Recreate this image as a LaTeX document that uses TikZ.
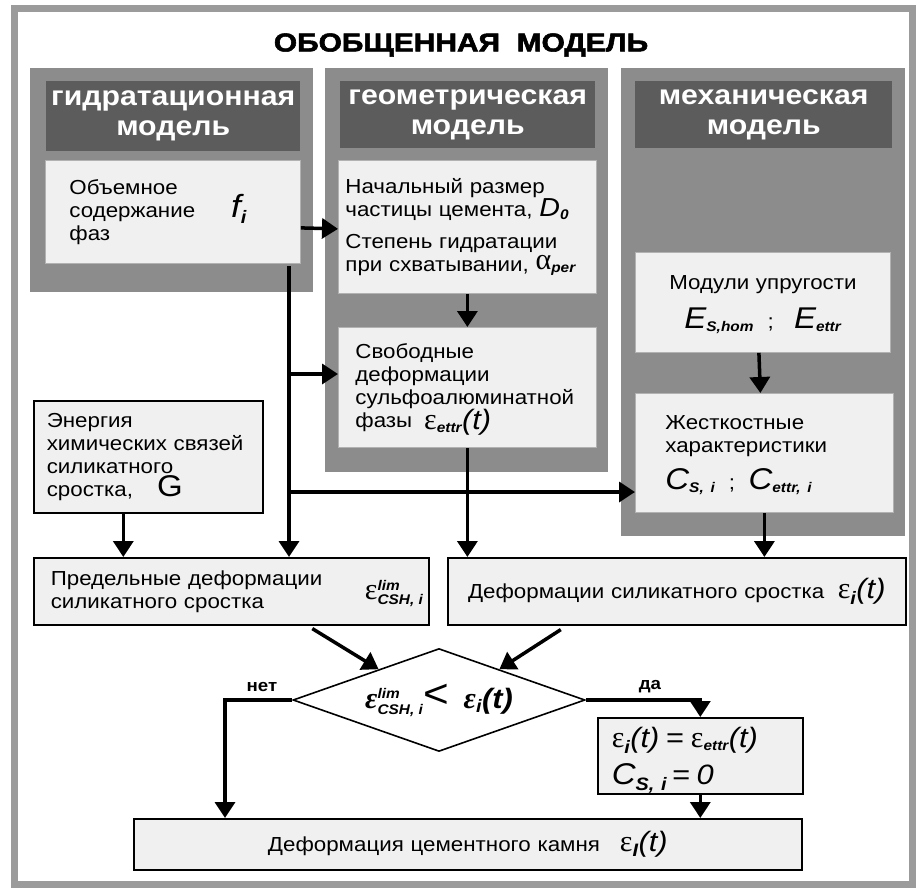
\documentclass[tikz,border=0pt]{standalone}
\usepackage{fontspec}
\setmainfont[FakeStretch=1.1]{Liberation Sans}
\newfontfamily\serifgr{Liberation Serif}
\newfontfamily\heavy[BoldFeatures={FakeBold=2}]{Liberation Sans}
\usepackage{graphicx}
\usetikzlibrary{arrows.meta,shapes.geometric,calc}

\definecolor{panelgray}{RGB}{140,140,140}
\definecolor{headgray}{RGB}{92,92,92}
\definecolor{boxgray}{RGB}{240,240,240}
\definecolor{framegray}{RGB}{155,155,155}

% индексы и обозначения
\newcommand\ind[1]{{\fontsize{14}{14}\selectfont\bfseries\itshape #1}}
\newcommand\gr[1]{{\serifgr\fontsize{30}{23}\selectfont #1}}
\newcommand\bigit[1]{{\fontsize{28}{23}\selectfont\itshape #1}}
\newcommand\vsub[2]{$\mbox{#1}_{\mbox{\ind{#2}}}$}
\newcommand\ltr[1]{{\fontsize{30}{23}\selectfont\itshape #1}}

\begin{document}
\begin{tikzpicture}[
  x=1pt, y=-1pt,
  every node/.style={font=\fontsize{20.3}{23}\selectfont},
  head/.style={fill=headgray, text=white, anchor=north west, inner sep=0pt,
    align=center, font=\fontsize{27.5}{30}\selectfont\bfseries},
  inbox/.style={fill=boxgray, draw=gray!60, line width=0.8pt,
    anchor=north west, inner ysep=0pt, align=left},
  outbox/.style={fill=boxgray, draw=black, line width=1.6pt,
    anchor=north west, inner ysep=0pt, align=left},
  arr/.style={line width=3.5pt, -{Triangle[width=20pt,length=16pt]}},
  yesno/.style={font=\fontsize{17}{17}\selectfont\bfseries}
]
  \useasboundingbox (0,0) rectangle (921,888);

  % Рамка
  \draw[framegray, line width=7pt] (14,9) rectangle (912,884);

  % Заголовок
  \node (title) at (461,45)
    {\scalebox{1.15}[1]{\heavy\bfseries\fontsize{26}{26}\selectfont ОБОБЩЕННАЯ\ \ МОДЕЛЬ}};

  % Панели моделей
  \fill[panelgray] (30,68) rectangle (313,292);
  \fill[panelgray] (325,68) rectangle (608,472);
  \fill[panelgray] (621,68) rectangle (905,536);

  \node[head, minimum width=254pt, minimum height=70pt] (hydHead) at (46,81)
    {гидратационная\\модель};
  \node[head, minimum width=255pt, minimum height=67pt] (geoHead) at (340,81)
    {геометрическая\\модель};
  \node[head, minimum width=257pt, minimum height=67pt] (mechHead) at (635,81)
    {механическая\\модель};

  % Гидратационная модель
  \node[inbox, inner xsep=24pt, text width=207pt, minimum height=103pt] (hydBox) at (45,160)
    {Объемное\\содержание\hspace{36pt}\raisebox{0pt}[0pt][0pt]{\vsub{\fontsize{32}{23}\selectfont\itshape f}{\fontsize{18}{18}\selectfont i}}\\фаз};

  % Геометрическая модель
  \node[inbox, inner xsep=7pt, text width=244pt, minimum height=133pt] (geoA) at (338,160)
    {Начальный размер\\частицы цемента, \raisebox{0pt}[0pt][0pt]{\vsub{\fontsize{26}{23}\selectfont\itshape D}{0}}\\[9pt]
     Степень гидратации\\при схватывании, \raisebox{0pt}[0pt][0pt]{\raisebox{2pt}{\vsub{\gr{α}}{per}}}};
  \node[inbox, inner xsep=17pt, text width=224pt, minimum height=120pt] (geoB) at (338,327)
    {Свободные\\деформации\\сульфоалюминатной\\фазы\hspace{12pt}\raisebox{-2pt}[0pt][0pt]{\vsub{\gr{ε}}{ettr}\bigit{(t)}}};

  % Механическая модель
  \node[inbox, inner xsep=10pt, text width=235pt, minimum height=100pt, align=center] (mechA) at (635,252)
    {Модули упругости\\[16pt]
     \raisebox{0pt}[0pt][0pt]{\vsub{\ltr{E}}{S,hom}\ \ ;\ \ \ \vsub{\ltr{E}}{ettr}}};
  \node[inbox, inner xsep=30pt, text width=198pt, minimum height=119pt] (mechB) at (635,393)
    {Жесткостные\\характеристики\\[14pt]
     \raisebox{0pt}[0pt][0pt]{\vsub{\ltr{C}}{S, i}\ \ ;\ \ \vsub{\ltr{C}}{ettr, i}}};

  % Нижняя часть
  \node[outbox, inner xsep=13pt, text width=203pt, minimum height=112pt] (energy) at (33,400)
    {Энергия\\химических связей\\силикатного\\сростка,\hspace{24pt}\raisebox{0pt}[0pt][0pt]{\fontsize{30}{23}\selectfont G}};
  \node[outbox, inner xsep=17pt, text width=361pt, minimum height=67pt] (limit) at (33,557)
    {Предельные деформации\\силикатного сростка};
  \node[anchor=east, inner sep=0pt] (limEps) at ($(limit.east)+(-6,2)$)
    {$\mbox{\gr{ε}}^{\mbox{\ind{lim}}}_{\mbox{\ind{CSH, i}}}$};
  \node[outbox, inner xsep=10pt, text width=438pt, minimum height=67pt, align=center] (silic) at (447,557)
    {Деформации силикатного сростка\ \ \vsub{\gr{ε}}{\fontsize{18}{18}\selectfont i}\bigit{(t)}};

  % Условие
  \node[diamond, aspect=2.1, draw, fill=white, line width=1.6pt, minimum width=292pt,
    inner sep=0pt, font=\fontsize{24}{24}\selectfont\bfseries\itshape] (dec) at (439,700)
    {$\mbox{\gr{\bfseries ε}}^{\mbox{\ind{lim}}}_{\mbox{\ind{CSH, i}}}$\raisebox{1pt}{\fontsize{40}{34}\selectfont\normalfont <}\ \ \vsub{\gr{\bfseries ε}}{\fontsize{18}{18}\selectfont i}\bigit{\bfseries (t)}};

  \node[outbox, inner xsep=14pt, text width=177pt, minimum height=76pt] (yes) at (597,717)
    {\raisebox{0pt}[24pt][0pt]{\vsub{\gr{ε}}{\fontsize{18}{18}\selectfont i}\bigit{(t)}\ {\fontsize{28}{23}\selectfont =}\ \vsub{\gr{ε}}{ettr}\bigit{(t)}}\\[14pt]
     \raisebox{0pt}[0pt][3pt]{\vsub{\ltr{C}}{\fontsize{18}{18}\selectfont S, i}\bigit{\,= 0}}};
  \node[outbox, inner xsep=14pt, text width=640pt, minimum height=51pt, align=center] (result) at (133,818)
    {Деформация цементного камня\hspace{20pt}\vsub{\gr{ε}}{\fontsize{18}{18}\selectfont I}\bigit{(t)}};

  \node[yesno] (noLbl) at (262,687) {нет};
  \node[yesno] (yesLbl) at (650,687) {да};

  % Связи
  \coordinate (hydOut) at (289,266);
  \coordinate (brB) at (289,374);
  \coordinate (brM) at (289,492);
  \coordinate (noC) at (225,700);

  \draw[arr] ($(hydBox.east)+(0,16)$) -- ($(geoA.west)+(0,2)$);
  \draw[arr] (hydOut) -- (hydOut |- limit.north);
  \draw[arr] (brB) -- (brB -| geoB.west);
  \draw[arr] (brM) -- (brM -| mechB.west);
  \draw[arr] (geoA.south) -- (geoB.north);
  \draw[arr] (geoB.south) -- (geoB.south |- silic.north);
  \draw[arr] ($(mechA.south)+(-4,0)$) -- ($(mechB.north)+(-4,0)$);
  \draw[arr] (mechB.south) -- (mechB.south |- silic.north);
  \draw[arr] ($(energy.south)+(-25,0)$) -- ($(limit.north)+(-108,0)$);
  \draw[arr] ($(limit.south)+(81,3)$) -- (dec.153);
  \draw[arr] ($(silic.south)+(-116,4)$) -- (dec.27);
  \draw[arr] (dec.west) -- (noC) -- (noC |- result.north);
  \draw[arr] (dec.east) -| (yes.north);
  \draw[arr] (yes.south) -- (yes.south |- result.north);
\end{tikzpicture}
\end{document}
